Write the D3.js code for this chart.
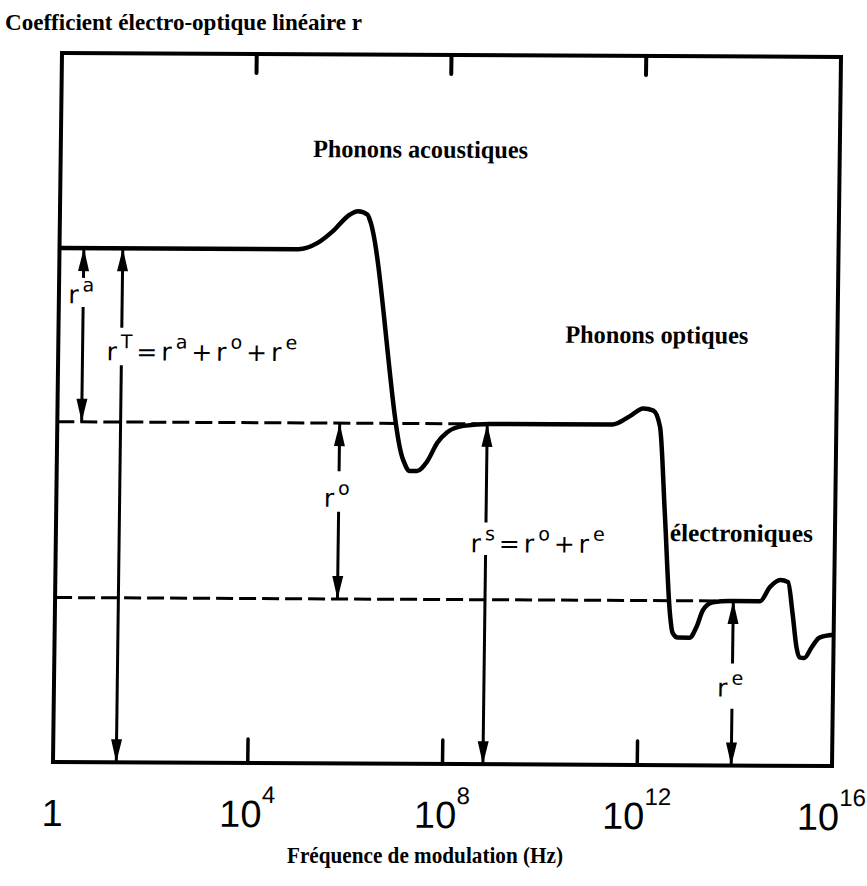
<!DOCTYPE html>
<html>
<head>
<meta charset="utf-8">
<script src="https://cdn.jsdelivr.net/npm/d3@7/dist/d3.min.js"></script>
<style>
  body { margin: 0; background: #fff; }
</style>
</head>
<body>
<div id="chart"></div>
<script>
// r (arbitrary units, 0 = bottom of frame) against log10 of modulation frequency
var curveLogF = [0, 4.9, 5.3, 5.6, 5.95, 6.12, 6.32, 6.37, 7.11, 7.25, 7.4, 7.6, 7.81, 8.01, 8.34, 8.9,
  11.4, 11.76, 12.03, 12.24, 12.38, 12.5, 12.63, 12.69, 12.8, 13.04, 13.18, 13.31, 13.51, 13.86,
  14.48, 14.68, 14.89, 15.05, 15.15, 15.24, 15.3, 15.4, 15.55, 15.71, 16];
var curveR = [72.5, 72.5, 73.4, 75, 77.4, 77.9, 77.4, 76.6, 42.9, 41.3, 41.3, 42.6, 45.3, 46.8, 47.7, 48,
  48, 49.2, 50.3, 50, 47.7, 35.6, 21.5, 18.7, 18, 18, 19.5, 21.9, 23, 23.2,
  23.2, 25.2, 26.2, 25.9, 21.5, 16.7, 15.3, 15.2, 16.7, 18.1, 18.5];

// dashed reference levels (r^s and r^e)
var dashR = [48, 23.2];
var dashEnd = [8.6, 13.9];

// double arrows
var arrowLogF = [0.5, 1.3, 5.8, 8.83, 13.93];
var arrowTop = [72.5, 72.5, 48, 48, 23.2];
var arrowBottom = [48, 0, 23.2, 0, 0];
var gapTop = [68.3, 61.3, 41.2, 34.1, 14.4];
var gapBottom = [64.2, 56, 35.5, 29.5, 8.0];
var labelR = [64.7, 56.7, 36.2, 29.9, 9.7];
var labelText = ["r^a", "r^T=r^a+r^o+r^e", "r^o", "r^s=r^o+r^e", "r^e"];

// axis
var tickLogF = [0, 4, 8, 12, 16];
var tickLabels = ["1", "10^4", "10^8", "10^12", "10^16"];
var innerTicks = [4, 8, 12];

// region names
var regionNames = ["Phonons acoustiques", "Phonons optiques", "électroniques"];
var regionLogF = [5.18, 10.41, 12.61];
var regionR = [85.5, 59.5, 31.6];
var regionWidth = [215, 183, 143];

var width = 867, height = 886;
var plotW = 779, plotH = 709;
var svg, plot, x, y;

createSvg();
drawTitles();
createPlot();
drawFrame();
drawDashes();
drawCurve();
drawArrows();
drawRegionNames();

function createSvg() {
  svg = d3.select("#chart")
    .append("svg")
    .attr("width", width)
    .attr("height", height);

  var defs = svg.append("defs");
  defs.append("marker")
    .attr("id", "head")
    .attr("viewBox", "-24 -6 24 12")
    .attr("refX", 0)
    .attr("refY", 0)
    .attr("markerWidth", 24)
    .attr("markerHeight", 12)
    .attr("markerUnits", "userSpaceOnUse")
    .attr("orient", "auto-start-reverse")
    .append("path")
    .attr("d", "M0,0L-23,-5.5L-23,5.5Z")
    .attr("fill", "#000");
}

function drawTitles() {
  svg.append("text")
    .attr("x", 5)
    .attr("y", 30)
    .attr("font-family", "Liberation Serif, serif")
    .attr("font-weight", "bold")
    .attr("font-size", 23)
    .attr("textLength", 357)
    .attr("lengthAdjust", "spacingAndGlyphs")
    .text("Coefficient électro-optique linéaire r");

  svg.append("text")
    .attr("x", 287)
    .attr("y", 863)
    .attr("font-family", "Liberation Serif, serif")
    .attr("font-weight", "bold")
    .attr("font-size", 24)
    .attr("textLength", 276)
    .attr("lengthAdjust", "spacingAndGlyphs")
    .text("Fréquence de modulation (Hz)");
}

function createPlot() {
  // the scanned figure is slightly sheared, so the whole plot group is too
  plot = svg.append("g")
    .attr("transform", "matrix(1,0.00513,-0.0127,1,62,53)");

  x = d3.scaleLinear().domain([0, 16]).range([0, plotW]);
  y = d3.scaleLinear().domain([0, 100]).range([plotH, 0]);
}

function drawFrame() {
  plot.append("rect")
    .attr("x", 0)
    .attr("y", 0)
    .attr("width", plotW)
    .attr("height", plotH)
    .attr("fill", "none")
    .attr("stroke", "#000")
    .attr("stroke-width", 4);

  plot.selectAll(".tickTop")
    .data(innerTicks)
    .enter()
    .append("line")
    .attr("class", "tickTop")
    .attr("x1", function(d) { return x(d); })
    .attr("x2", function(d) { return x(d); })
    .attr("y1", 0)
    .attr("y2", 19)
    .attr("stroke", "#000")
    .attr("stroke-width", 4)
    .attr("stroke-linecap", "round");

  plot.selectAll(".tickBottom")
    .data(innerTicks)
    .enter()
    .append("line")
    .attr("class", "tickBottom")
    .attr("x1", function(d) { return x(d); })
    .attr("x2", function(d) { return x(d); })
    .attr("y1", plotH)
    .attr("y2", plotH - 24)
    .attr("stroke", "#000")
    .attr("stroke-width", 3.5)
    .attr("stroke-linecap", "round");

  var labels = plot.selectAll(".tickLabel")
    .data(tickLogF)
    .enter()
    .append("text")
    .attr("class", "tickLabel")
    .attr("x", function(d) { return x(d); })
    .attr("y", plotH + 64)
    .attr("text-anchor", "middle")
    .attr("font-family", "Liberation Sans, sans-serif")
    .attr("font-size", 38);

  labels.each(function(d, i) {
    var parts = tickLabels[i].split("^");
    var t = d3.select(this);
    t.append("tspan").text(parts[0]);
    if (parts.length > 1) {
      t.append("tspan")
        .attr("dy", -24)
        .attr("font-size", 24)
        .text(parts[1]);
    }
  });
}

function drawDashes() {
  plot.selectAll(".dash")
    .data(dashR)
    .enter()
    .append("line")
    .attr("class", "dash")
    .attr("x1", x(0))
    .attr("x2", function(d, i) { return x(dashEnd[i]); })
    .attr("y1", function(d) { return y(d); })
    .attr("y2", function(d) { return y(d); })
    .attr("stroke", "#000")
    .attr("stroke-width", 3)
    .attr("stroke-dasharray", "17,6");
}

function drawCurve() {
  var line = d3.line()
    .x(function(d) { return x(d[0]); })
    .y(function(d) { return y(d[1]); })
    .curve(d3.curveMonotoneX);

  plot.append("path")
    .datum(d3.zip(curveLogF, curveR))
    .attr("d", line)
    .attr("fill", "none")
    .attr("stroke", "#000")
    .attr("stroke-width", 4.5)
    .attr("stroke-linejoin", "round");
}

function drawArrows() {
  var arrows = plot.selectAll(".arrow")
    .data(arrowLogF)
    .enter()
    .append("g")
    .attr("class", "arrow");

  arrows.append("line")
    .attr("x1", function(d) { return x(d); })
    .attr("x2", function(d) { return x(d); })
    .attr("y1", function(d, i) { return y(arrowTop[i]); })
    .attr("y2", function(d, i) { return y(gapTop[i]); })
    .attr("stroke", "#000")
    .attr("stroke-width", 3)
    .attr("marker-start", "url(#head)");

  arrows.append("line")
    .attr("x1", function(d) { return x(d); })
    .attr("x2", function(d) { return x(d); })
    .attr("y1", function(d, i) { return y(gapBottom[i]); })
    .attr("y2", function(d, i) { return y(arrowBottom[i]); })
    .attr("stroke", "#000")
    .attr("stroke-width", 3)
    .attr("marker-end", "url(#head)");

  arrows.append("text")
    .attr("x", function(d) { return x(d) - 15; })
    .attr("y", function(d, i) { return y(labelR[i]); })
    .attr("font-family", "DejaVu Sans, sans-serif")
    .attr("font-size", 25)
    .attr("letter-spacing", 4)
    .each(function(d, i) {
      var t = d3.select(this);
      var parts = labelText[i].split(/(\^.)/);
      var raised = false;
      parts.forEach(function(p) {
        if (p === "") return;
        if (p[0] === "^") {
          t.append("tspan")
            .attr("dy", -12)
            .attr("font-size", 19)
            .text(p.slice(1));
          raised = true;
        } else {
          t.append("tspan")
            .attr("dy", raised ? 12 : 0)
            .text(p);
          raised = false;
        }
      });
    });
}

function drawRegionNames() {
  plot.selectAll(".region")
    .data(regionNames)
    .enter()
    .append("text")
    .attr("class", "region")
    .attr("x", function(d, i) { return x(regionLogF[i]); })
    .attr("y", function(d, i) { return y(regionR[i]); })
    .attr("font-family", "Liberation Serif, serif")
    .attr("font-weight", "bold")
    .attr("font-size", 25)
    .attr("textLength", function(d, i) { return regionWidth[i]; })
    .attr("lengthAdjust", "spacingAndGlyphs")
    .text(function(d) { return d; });
}
</script>
</body>
</html>
